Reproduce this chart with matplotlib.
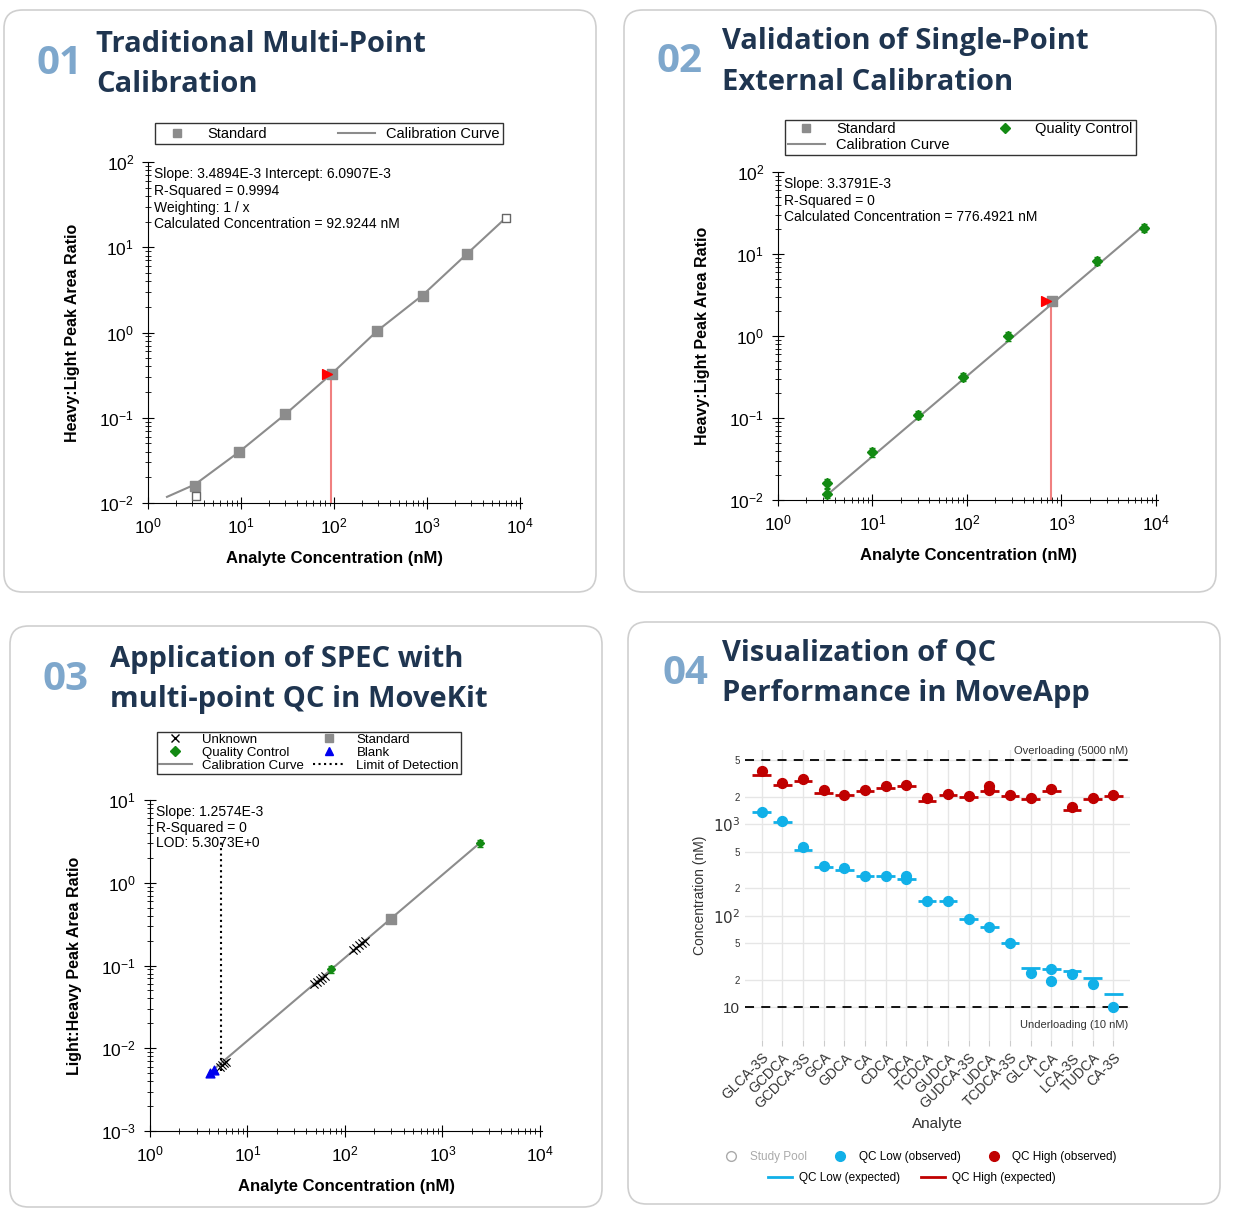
import numpy as np
import matplotlib.pyplot as plt
from matplotlib.patches import FancyBboxPatch
from matplotlib.lines import Line2D
from matplotlib.ticker import LogLocator, NullFormatter, FixedLocator

plt.rcParams['font.family'] = ['Liberation Sans', 'DejaVu Sans']
plt.rcParams['axes.unicode_minus'] = False

# ---- panel 1 data ----
p1_std_x = [3.2, 9.6, 30, 95, 290, 900, 2700]
p1_std_y = [0.016, 0.04, 0.11, 0.33, 1.05, 2.7, 8.4]
p1_open_x = [3.3, 7000]
p1_open_y = [0.012, 22]
p1_curve_x = [1.6, 3.2, 9.6, 30, 95, 290, 900, 2700, 7000]
p1_curve_y = [0.0118, 0.0165, 0.04, 0.11, 0.33, 1.04, 2.75, 8.4, 22]
p1_calc = (92.9244, 0.33)

# ---- panel 2 data ----
p2_qc_x = [3.3, 3.3, 10, 30, 90, 270, 2400, 7400]
p2_qc_y = [0.016, 0.012, 0.038, 0.11, 0.32, 1.0, 8.3, 21]
p2_std_x = [800]
p2_std_y = [2.65]
p2_curve_x = [3.3, 7400]
p2_curve_y = [0.0115, 22]
p2_calc = (776.4921, 2.65)

# ---- panel 3 data ----
p3_unk_x = [5.2, 5.5, 5.8, 6.0, 48, 52, 55, 58, 62, 120, 130, 140, 150, 160]
p3_unk_y = [0.0060, 0.0063, 0.0066, 0.0069, 0.060, 0.063, 0.067, 0.070, 0.074,
            0.155, 0.165, 0.175, 0.185, 0.195]
p3_qc_x = [72, 2400]
p3_qc_y = [0.09, 3.0]
p3_std_x = [300]
p3_std_y = [0.36]
p3_blank_x = [4.1, 4.5]
p3_blank_y = [0.0050, 0.0055]
p3_curve_x = [4.3, 2400]
p3_curve_y = [0.0053, 3.0]
p3_lod = 5.3073
p3_lod_top = 3.3

# ---- panel 4 data ----
analytes = ['GLCA-3S', 'GCDCA', 'GCDCA-3S', 'GCA', 'GDCA', 'CA', 'CDCA', 'DCA', 'TCDCA',
            'GUDCA', 'GUDCA-3S', 'UDCA', 'TCDCA-3S', 'GLCA', 'LCA', 'LCA-3S', 'TUDCA', 'CA-3S']
high_obs = [3800, 2800, 3100, 2400, 2100, 2400, 2600, 2700, 1950, 2150, 2050, 2600,
            2100, 1950, 2450, 1550, 1950, 2100]
high_obs_extra = {11: 2350}
high_exp = [3500, 2700, 3000, 2200, 2100, 2300, 2500, 2600, 1800, 2100, 2000, 2300,
            2050, 1900, 2300, 1450, 1900, 2050]
low_obs = [1350, 1080, 570, 350, 335, 275, 275, 270, 145, 145, 93, 75, 50, 24, 26, 23, 18, 10]
low_obs_extra = {7: 255, 14: 19.5}
low_exp = [1350, 1050, 530, 340, 320, 270, 270, 255, 145, 145, 93, 75, 50, 27, 26, 25, 21, 14]

W, H = 1236, 1222
fig = plt.figure(figsize=(W / 100, H / 100), dpi=100)

NAVY = '#1f3550'
NUMC = '#7ea7cc'


def panel_box(x0, y0, x1, y1):
    fig.patches.append(FancyBboxPatch((x0 / W, 1 - y1 / H), (x1 - x0) / W, (y1 - y0) / H,
                                      boxstyle='round,pad=0,rounding_size=0.015',
                                      transform=fig.transFigure, facecolor='white',
                                      edgecolor='#cfcfcf', lw=1.2, zorder=-10))


def title(num, line1, line2, xn, xt, y):
    fig.text(xn / W, 1 - y / H, num, color=NUMC, fontsize=29, fontweight='bold',
             family='Open Sans', va='center')
    fig.text(xt / W, 1 - (y - 20) / H, line1, color=NAVY, fontsize=21, fontweight='bold',
             family='Open Sans', va='center')
    fig.text(xt / W, 1 - (y + 21) / H, line2, color=NAVY, fontsize=21, fontweight='bold',
             family='Open Sans', va='center')


def style_log_ax(ax, ylab, ylo, yhi):
    ax.set_xscale('log')
    ax.set_yscale('log')
    ax.set_xlim(1, 1.05e4)
    ax.set_ylim(ylo, yhi)
    ax.patch.set_alpha(0)
    for s in ['top', 'right']:
        ax.spines[s].set_visible(False)
    ax.xaxis.set_major_locator(LogLocator(base=10, numticks=10))
    ax.xaxis.set_minor_locator(LogLocator(base=10, subs=np.arange(2, 10), numticks=10))
    ax.yaxis.set_minor_locator(LogLocator(base=10, subs=np.arange(2, 10), numticks=10))
    ax.xaxis.set_minor_formatter(NullFormatter())
    ax.yaxis.set_minor_formatter(NullFormatter())
    ax.tick_params(which='major', direction='inout', length=8, labelsize=12.5, pad=6)
    ax.tick_params(which='minor', direction='inout', length=4)
    ax.set_xlabel('Analyte Concentration (nM)', fontsize=12, fontweight='bold', labelpad=10)
    ax.set_ylabel(ylab, fontsize=11.5, fontweight='bold', labelpad=14)


# ================= Panel 1 =================
panel_box(4, 10, 596, 592)
title('01', 'Traditional Multi-Point', 'Calibration', 37, 96, 64)
ax1 = fig.add_axes([148 / W, 1 - 503 / H, 374 / W, 341 / H])
style_log_ax(ax1, 'Heavy:Light Peak Area Ratio', 0.01, 100)
ax1.plot(p1_curve_x, p1_curve_y, color='#8c8c8c', lw=1.5)
ax1.scatter(p1_std_x, p1_std_y, marker='s', s=45, color='#8c8c8c', zorder=3)
ax1.scatter(p1_open_x, p1_open_y, marker='s', s=40, facecolor='white', edgecolor='#666666', zorder=3)
ax1.plot([p1_calc[0], p1_calc[0]], [0.01, p1_calc[1]], color='#f08080', lw=1.5)
ax1.scatter([p1_calc[0] * 0.9], [p1_calc[1]], marker='>', s=50, color='red', zorder=4)
ax1.text(0.015, 0.985, 'Slope: 3.4894E-3 Intercept: 6.0907E-3\nR-Squared = 0.9994\n'
         'Weighting: 1 / x\nCalculated Concentration = 92.9244 nM',
         transform=ax1.transAxes, va='top', fontsize=10, linespacing=1.25)
ax1.legend(handles=[Line2D([], [], marker='s', ls='', color='#8c8c8c', ms=6, label='Standard'),
                    Line2D([], [], color='#8c8c8c', lw=1.5, label='Calibration Curve')],
           ncol=2, loc='lower left', bbox_to_anchor=(0, 1.03, 0.97, 0.08), mode='expand',
           fancybox=False, edgecolor='black', fontsize=10.5, borderpad=0.25,
           handlelength=2.5, columnspacing=4)

# ================= Panel 2 =================
panel_box(624, 10, 1216, 592)
title('02', 'Validation of Single-Point', 'External Calibration', 656, 722, 61)
ax2 = fig.add_axes([778 / W, 1 - 500 / H, 380 / W, 328 / H])
style_log_ax(ax2, 'Heavy:Light Peak Area Ratio', 0.01, 100)
ax2.plot(p2_curve_x, p2_curve_y, color='#8c8c8c', lw=1.5)
ax2.errorbar(p2_qc_x, p2_qc_y, yerr=np.array(p2_qc_y) * 0.12, fmt='D', ms=5, color='#138a13',
             capsize=2, lw=1, zorder=4)
ax2.scatter(p2_std_x, p2_std_y, marker='s', s=45, color='#8c8c8c', zorder=3)
ax2.plot([p2_calc[0], p2_calc[0]], [0.01, p2_calc[1]], color='#f08080', lw=1.5)
ax2.scatter([p2_calc[0] * 0.88], [p2_calc[1]], marker='>', s=50, color='red', zorder=4)
ax2.text(0.015, 0.985, 'Slope: 3.3791E-3\nR-Squared = 0\nCalculated Concentration = 776.4921 nM',
         transform=ax2.transAxes, va='top', fontsize=10, linespacing=1.25)
ax2.legend(handles=[Line2D([], [], marker='s', ls='', color='#8c8c8c', ms=6, label='Standard'),
                    Line2D([], [], color='#8c8c8c', lw=1.5, label='Calibration Curve'),
                    Line2D([], [], marker='D', ls='', color='#138a13', ms=5, label='Quality Control')],
           ncol=2, loc='lower left', bbox_to_anchor=(0, 1.03, 0.96, 0.12), mode='expand',
           fancybox=False, edgecolor='black', fontsize=10.5, borderpad=0.2, labelspacing=0.1,
           handlelength=2.5, columnspacing=3)

# ================= Panel 3 =================
panel_box(10, 626, 602, 1207)
title('03', 'Application of SPEC with', 'multi-point QC in MoveKit', 42, 110, 679)
ax3 = fig.add_axes([150 / W, 1 - 1131 / H, 392 / W, 331 / H])
style_log_ax(ax3, 'Light:Heavy Peak Area Ratio', 0.001, 10)
ax3.plot(p3_curve_x, p3_curve_y, color='#8c8c8c', lw=1.5)
ax3.plot([p3_lod, p3_lod], [p3_curve_y[0], p3_lod_top], color='black', ls=':', lw=1.5)
ax3.scatter(p3_unk_x, p3_unk_y, marker='x', s=35, color='black', lw=0.8, zorder=3)
ax3.scatter(p3_std_x, p3_std_y, marker='s', s=45, color='#8c8c8c', zorder=3)
ax3.errorbar(p3_qc_x, p3_qc_y, yerr=np.array(p3_qc_y) * 0.1, fmt='D', ms=4.5, color='#138a13',
             capsize=2, lw=1, zorder=4)
ax3.scatter(p3_blank_x, p3_blank_y, marker='^', s=40, color='#0000ee', zorder=4)
ax3.text(0.015, 0.985, 'Slope: 1.2574E-3\nR-Squared = 0\nLOD: 5.3073E+0',
         transform=ax3.transAxes, va='top', fontsize=10, linespacing=1.15)
ax3.legend(handles=[Line2D([], [], marker='x', ls='', color='black', ms=6, label='Unknown'),
                    Line2D([], [], marker='D', ls='', color='#138a13', ms=5, label='Quality Control'),
                    Line2D([], [], color='#8c8c8c', lw=1.5, label='Calibration Curve'),
                    Line2D([], [], marker='s', ls='', color='#8c8c8c', ms=6, label='Standard'),
                    Line2D([], [], marker='^', ls='', color='#0000ee', ms=6, label='Blank'),
                    Line2D([], [], color='black', ls=':', lw=1.5, label='Limit of Detection')],
           ncol=2, loc='lower left', bbox_to_anchor=(0, 1.06, 0.81, 0.16), mode='expand',
           fancybox=False, edgecolor='black', fontsize=9.5, borderpad=0.15, labelspacing=0.05,
           handlelength=2.5, columnspacing=1)

# ================= Panel 4 =================
panel_box(628, 622, 1220, 1204)
title('04', 'Visualization of QC', 'Performance in MoveApp', 662, 722, 673)
ax4 = fig.add_axes([745 / W, 1 - 1040 / H, 385 / W, 290 / H])
ax4.patch.set_alpha(0)
ax4.set_yscale('log')
ax4.set_ylim(4.4, 6500)
xs = np.arange(len(analytes))
ax4.set_xlim(-0.8, len(analytes) - 0.2)
for s in ax4.spines.values():
    s.set_visible(False)
yt = [10, 20, 50, 100, 200, 500, 1000, 2000, 5000]
ax4.set_yticks(yt)
ax4.set_yticklabels(['10', '2', '5', '$10^2$', '2', '5', '$10^3$', '2', '5'])
ax4.yaxis.set_minor_locator(FixedLocator([]))
for lbl, v in zip(ax4.get_yticklabels(), yt):
    lbl.set_fontsize(11 if v in (10, 100, 1000) else 7)
ax4.set_xticks(xs)
ax4.set_xticklabels(analytes, rotation=45, ha='right', rotation_mode='anchor', fontsize=10,
                    color='#333333')
ax4.tick_params(axis='both', length=0, colors='#333333')
ax4.tick_params(axis='x', length=4, color='#cccccc')
ax4.grid(True, color='#e6e6e6', lw=1)
ax4.set_axisbelow(True)
ax4.axhline(5000, color='black', ls=(0, (5, 4)), lw=1.3)
ax4.axhline(10, color='black', ls=(0, (5, 4)), lw=1.3)
ax4.text(len(analytes) - 0.3, 5600, 'Overloading (5000 nM)', ha='right', va='bottom', fontsize=8,
         color='#333333')
ax4.text(len(analytes) - 0.3, 7.3, 'Underloading (10 nM)', ha='right', va='top', fontsize=8,
         color='#333333')
ax4.hlines(high_exp, xs - 0.45, xs + 0.45, color='#c00000', lw=2)
ax4.hlines(low_exp, xs - 0.45, xs + 0.45, color='#11b0e8', lw=2)
ax4.scatter(xs, high_obs, s=50, color='#c00000', zorder=3)
ax4.scatter(list(high_obs_extra.keys()), list(high_obs_extra.values()), s=50, color='#c00000', zorder=3)
ax4.scatter(xs, low_obs, s=50, color='#11b0e8', zorder=3)
ax4.scatter(list(low_obs_extra.keys()), list(low_obs_extra.values()), s=50, color='#11b0e8', zorder=3)
ax4.set_xlabel('Analyte', fontsize=11, color='#333333')
ax4.set_ylabel('Concentration (nM)', fontsize=10, color='#333333')

leg_a = fig.legend(handles=[Line2D([], [], marker='o', ls='', mfc='white', mec='#aaaaaa', ms=7,
                                   label='Study Pool'),
                            Line2D([], [], marker='o', ls='', color='#11b0e8', ms=7,
                                   label='QC Low (observed)'),
                            Line2D([], [], marker='o', ls='', color='#c00000', ms=7,
                                   label='QC High (observed)')],
                   ncol=3, loc='center', bbox_to_anchor=(918 / W, 1 - 1157 / H), frameon=False,
                   fontsize=8.5, handletextpad=0.6, columnspacing=1.8)
leg_a.get_texts()[0].set_color('#aaaaaa')
leg_b = fig.legend(handles=[Line2D([], [], color='#11b0e8', lw=2, label='QC Low (expected)'),
                            Line2D([], [], color='#c00000', lw=2, label='QC High (expected)')],
                   ncol=2, loc='center', bbox_to_anchor=(912 / W, 1 - 1178 / H), frameon=False,
                   fontsize=8.5, handletextpad=0.6, columnspacing=1.8)

fig.savefig('out.png', dpi=100)
